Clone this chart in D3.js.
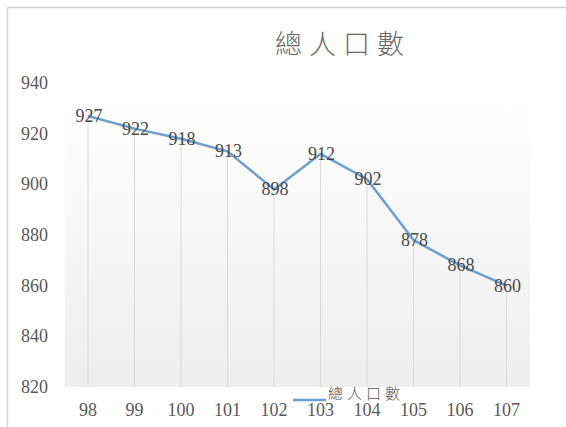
<!DOCTYPE html>
<html>
<head>
<meta charset="utf-8">
<script src="https://cdn.jsdelivr.net/npm/d3@7"></script>
<style>
  html, body { margin: 0; padding: 0; background: #fff; }
  svg { display: block; }
</style>
</head>
<body>
<script>
// Population by year (ROC calendar)
const years = ["98", "99", "100", "101", "102", "103", "104", "105", "106", "107"];
const population = [927, 922, 918, 913, 898, 912, 902, 878, 868, 860];
const yTicks = [820, 840, 860, 880, 900, 920, 940];
const titleText = "總人口數";
const seriesName = "總人口數";

const W = 566, H = 427;
const svg = d3.select("body").append("svg").attr("width", W).attr("height", H);

// chart frame
svg.append("line").attr("x1", 7.5).attr("x2", W).attr("y1", 7.5).attr("y2", 7.5)
  .attr("stroke", "#d4d4d4").attr("stroke-width", 1.5);
svg.append("line").attr("x1", 7.5).attr("x2", 7.5).attr("y1", 7.5).attr("y2", H)
  .attr("stroke", "#d4d4d4").attr("stroke-width", 1.5);

const x = d3.scaleBand().domain(years).range([64.75, 529.75]);
const y = d3.scaleLinear().domain([820, 940]).range([387, 83]);
const cx = d => x(d) + x.bandwidth() / 2;

// plot-area gradient
const defs = svg.append("defs");
const grad = defs.append("linearGradient").attr("id", "plotBg")
  .attr("x1", 0).attr("y1", 0).attr("x2", 0).attr("y2", 1);
grad.append("stop").attr("offset", "0%").attr("stop-color", "#ffffff");
grad.append("stop").attr("offset", "20%").attr("stop-color", "#fbfbfb");
grad.append("stop").attr("offset", "100%").attr("stop-color", "#eeeeee");
svg.append("rect")
  .attr("x", x.range()[0]).attr("y", 100)
  .attr("width", x.range()[1] - x.range()[0]).attr("height", y(820) - 100)
  .attr("fill", "url(#plotBg)");

// title
svg.append("text").attr("x", 343).attr("y", 54)
  .attr("text-anchor", "middle")
  .style("font-family", "'Noto Sans CJK TC', sans-serif")
  .style("font-weight", 300)
  .style("font-size", "27px").style("letter-spacing", "7px")
  .attr("fill", "#6a6a6a").text(titleText);

// y axis labels
svg.append("g").selectAll("text").data(yTicks).join("text")
  .attr("x", 48).attr("y", d => y(d) + 6)
  .attr("text-anchor", "end")
  .style("font-family", "'Liberation Serif', serif").style("font-size", "18px")
  .attr("fill", "#595959").text(d => d);

// x axis labels
svg.append("g").selectAll("text").data(years).join("text")
  .attr("x", d => cx(d)).attr("y", 416)
  .attr("text-anchor", "middle")
  .style("font-family", "'Liberation Serif', serif").style("font-size", "18px")
  .attr("fill", "#595959").text(d => d);

// drop lines
svg.append("g").selectAll("line").data(years).join("line")
  .attr("x1", d => cx(d)).attr("x2", d => cx(d))
  .attr("y1", (d, i) => y(population[i])).attr("y2", y(820))
  .attr("stroke", "#d9d9d9").attr("stroke-width", 1);

// series line
const line = d3.line().x((d, i) => cx(years[i])).y(d => y(d));
svg.append("path").datum(population)
  .attr("d", line).attr("fill", "none")
  .attr("stroke", "#6c9fd1").attr("stroke-width", 2.5)
  .attr("stroke-linejoin", "round");

// data labels, centred on each point
svg.append("g").selectAll("text").data(population).join("text")
  .attr("x", (d, i) => cx(years[i]) + 1).attr("y", d => y(d) + 6)
  .attr("text-anchor", "middle")
  .style("font-family", "'Liberation Serif', serif").style("font-size", "18px")
  .attr("fill", "#4a4a4a").text(d => d);

// legend
const legend = svg.append("g");
legend.append("line").attr("x1", 293).attr("x2", 326).attr("y1", 400).attr("y2", 400)
  .attr("stroke", "#6c9fd1").attr("stroke-width", 2.5);
legend.append("text").attr("x", 328).attr("y", 399)
  .style("font-family", "'Noto Sans CJK TC', sans-serif")
  .style("font-weight", 300)
  .style("font-size", "15px").style("letter-spacing", "4px")
  .attr("fill", "#595959").text(seriesName);
</script>
</body>
</html>
